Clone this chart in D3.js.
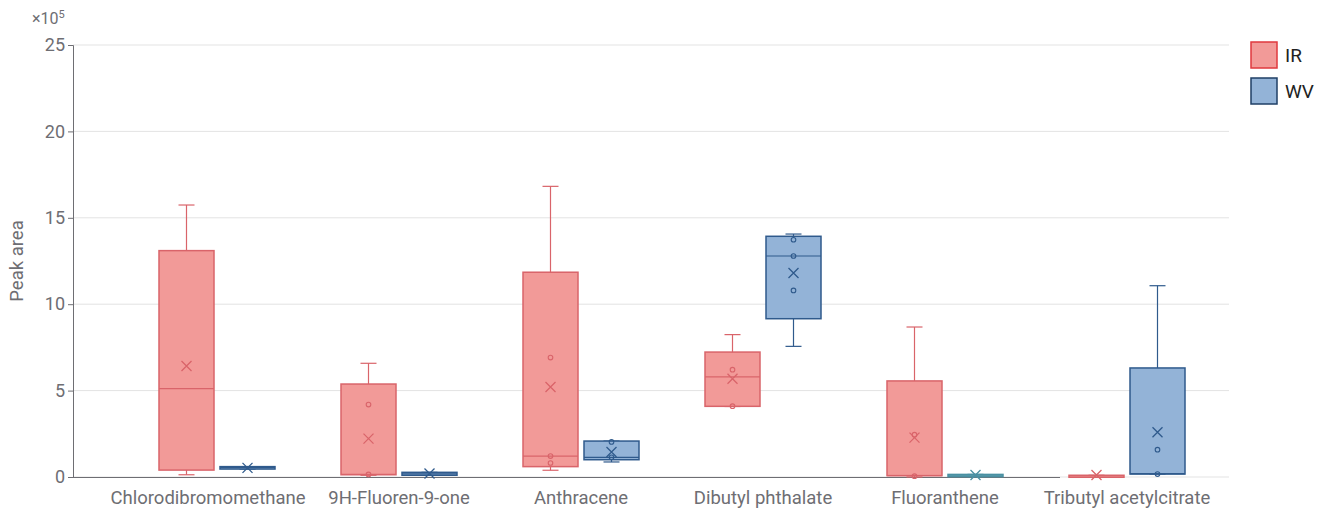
<!doctype html>
<html>
  <head>
    <meta charset="utf-8">
    <title>Peak area box plot</title>
    <script src="https://cdnjs.cloudflare.com/ajax/libs/d3/7.8.5/d3.min.js"></script>
    <style>
      body { margin: 0; background: #fff; font-family: Roboto, "Noto Sans", sans-serif; }
      .tick text { fill: #6e6e73; }
    </style>
  </head>
  <body>
    <div id="chart"></div>
    <script>
      // categories on the x axis
      const categories = ['Chlorodibromomethane', '9H-Fluoren-9-one', 'Anthracene',
                          'Dibutyl phthalate', 'Fluoranthene', 'Tributyl acetylcitrate'];
      const seriesNames = ['IR', 'WV'];
      const yTicks = [0, 5, 10, 15, 20, 25];

      // IR stats (x10^5)
      const irMin  = [0.13, 0.10, 0.39, 4.08, 0.00, 0.05];
      const irQ1   = [0.40, 0.13, 0.60, 4.09, 0.08, 0.05];
      const irMed  = [5.11, 0.15, 1.21, 5.79, 0.08, 0.08];
      const irQ3   = [13.10, 5.38, 11.85, 7.23, 5.56, 0.10];
      const irMax  = [15.74, 6.58, 16.82, 8.24, 8.68, 0.10];
      const irMean = [6.42, 2.22, 5.21, 5.69, 2.28, 0.12];
      const irPts  = [[], [4.19, 0.15], [6.91, 1.21, 0.81], [6.21, 4.10], [2.45, 0.05], []];

      // WV stats (x10^5)
      const wvMin  = [0.46, 0.10, 0.87, 7.56, 0.02, 0.17];
      const wvQ1   = [0.46, 0.10, 1.00, 9.16, 0.02, 0.17];
      const wvMed  = [0.54, 0.18, 1.14, 12.79, 0.10, 0.20];
      const wvQ3   = [0.60, 0.27, 2.08, 13.93, 0.15, 6.31];
      const wvMax  = [0.60, 0.27, 2.08, 14.06, 0.15, 11.07];
      const wvMean = [0.53, 0.20, 1.45, 11.81, 0.12, 2.59];
      const wvPts  = [[], [], [2.03, 1.14], [13.73, 12.79, 10.80], [], [1.58, 0.17]];

      const W = 1321, H = 512;
      const plotL = 73, plotR = 1229, plotT = 45, plotB = 477;

      const svg = d3.select('#chart').append('svg')
        .attr('width', W).attr('height', H);

      const y = d3.scaleLinear().domain([0, 25]).range([plotB, plotT]);
      const x = d3.scaleBand().domain(categories).range([126, 1218]);
      // two boxes of ~55px with a 6px gap, centred in each band
      const xs = d3.scaleBand().domain(seriesNames).range([33, x.bandwidth() - 33])
        .paddingInner(6 / 61).paddingOuter(0);

      const styles = {
        IR: { fill: '#f29a98', stroke: '#d9646a' },
        WV: { fill: '#93b3d7', stroke: '#2f5a8c' }
      };
      const tealStyle = { fill: '#7fb0bd', stroke: '#4a90a2' };

      // gridlines
      svg.append('g')
        .selectAll('line')
        .data(yTicks)
        .join('line')
        .attr('x1', plotL).attr('x2', plotR)
        .attr('y1', d => y(d)).attr('y2', d => y(d))
        .attr('stroke', '#e3e3e3').attr('stroke-width', 1);

      // y axis
      const yAxis = svg.append('g')
        .attr('transform', `translate(${plotL},0)`)
        .call(d3.axisLeft(y).tickValues(yTicks).tickSize(5).tickPadding(3));
      yAxis.select('.domain').attr('stroke', '#6e6e73');
      yAxis.selectAll('.tick line').attr('stroke', '#6e6e73');
      yAxis.selectAll('.tick text').style('font-size', '18px').style('font-family', 'Roboto');

      // x axis baseline
      svg.append('line')
        .attr('x1', plotL).attr('x2', 1060)
        .attr('y1', plotB + 0.5).attr('y2', plotB + 0.5)
        .attr('stroke', '#6e6e73').attr('stroke-width', 1.2);

      const xAxis = svg.append('g')
        .attr('transform', `translate(0,${plotB})`)
        .call(d3.axisBottom(x).tickSize(0).tickPadding(14));
      xAxis.select('.domain').remove();
      xAxis.selectAll('.tick text')
        .style('font-size', '18.5px').style('font-family', 'Roboto')
        .attr('dx', (d, i) => i === 0 ? -9 : 0);

      // exponent and y title
      svg.append('text')
        .attr('x', 32).attr('y', 24)
        .attr('fill', '#6e6e73').style('font-size', '16px')
        .html('×10<tspan dy="-6" font-size="11">5</tspan>');
      svg.append('text')
        .attr('transform', 'translate(23,261) rotate(-90)')
        .attr('text-anchor', 'middle')
        .attr('fill', '#6e6e73').style('font-size', '18.5px')
        .text('Peak area');

      // build box rows
      const boxes = [];
      categories.forEach((c, i) => {
        boxes.push({ cat: c, s: 'IR', min: irMin[i], q1: irQ1[i], med: irMed[i], q3: irQ3[i], max: irMax[i], mean: irMean[i], pts: irPts[i] });
        boxes.push({ cat: c, s: 'WV', min: wvMin[i], q1: wvQ1[i], med: wvMed[i], q3: wvQ3[i], max: wvMax[i], mean: wvMean[i], pts: wvPts[i] });
      });

      const bw = xs.bandwidth();
      const cap = 8;
      const styleOf = d => (d.cat === 'Fluoranthene' && d.s === 'WV') ? tealStyle : styles[d.s];

      const g = svg.append('g').selectAll('g')
        .data(boxes)
        .join('g')
        .attr('transform', d => `translate(${x(d.cat) + xs(d.s)},0)`);

      // whiskers
      g.append('line')
        .attr('x1', bw / 2).attr('x2', bw / 2)
        .attr('y1', d => y(d.max)).attr('y2', d => y(d.min))
        .attr('stroke', d => styleOf(d).stroke).attr('stroke-width', 1.2);
      g.append('line')
        .attr('x1', bw / 2 - cap).attr('x2', bw / 2 + cap)
        .attr('y1', d => y(d.max)).attr('y2', d => y(d.max))
        .attr('stroke', d => styleOf(d).stroke).attr('stroke-width', 1.2);
      g.append('line')
        .attr('x1', bw / 2 - cap).attr('x2', bw / 2 + cap)
        .attr('y1', d => y(d.min)).attr('y2', d => y(d.min))
        .attr('stroke', d => styleOf(d).stroke).attr('stroke-width', 1.2);

      // box
      g.append('rect')
        .attr('x', 0).attr('width', bw)
        .attr('y', d => y(d.q3))
        .attr('height', d => Math.max(2, y(d.q1) - y(d.q3)))
        .attr('fill', d => styleOf(d).fill)
        .attr('stroke', d => styleOf(d).stroke).attr('stroke-width', 1.5);

      // median
      g.append('line')
        .attr('x1', 0).attr('x2', bw)
        .attr('y1', d => y(d.med)).attr('y2', d => y(d.med))
        .attr('stroke', d => styleOf(d).stroke).attr('stroke-width', 1.2);

      // inner points
      g.selectAll('circle')
        .data(d => d.pts.map(v => ({ v, d })))
        .join('circle')
        .attr('cx', bw / 2).attr('cy', p => y(p.v))
        .attr('r', 2.3)
        .attr('fill', 'none')
        .attr('stroke', p => styleOf(p.d).stroke).attr('stroke-width', 1.1);

      // mean marker (x)
      const m = 5;
      g.append('path')
        .attr('d', d => {
          const cy = y(d.mean), cx = bw / 2;
          return `M${cx - m},${cy - m}L${cx + m},${cy + m}M${cx - m},${cy + m}L${cx + m},${cy - m}`;
        })
        .attr('stroke', d => styleOf(d).stroke).attr('stroke-width', 1.3).attr('fill', 'none');

      // legend
      const legendStroke = { IR: '#e0393e', WV: '#1f3f66' };
      const lg = svg.append('g').selectAll('g')
        .data(seriesNames)
        .join('g')
        .attr('transform', (d, i) => `translate(1251,${42 + i * 36})`);
      lg.append('rect')
        .attr('width', 26).attr('height', 26)
        .attr('fill', d => styles[d].fill)
        .attr('stroke', d => legendStroke[d]).attr('stroke-width', 1.5);
      lg.append('text')
        .attr('x', 34).attr('y', 20)
        .attr('fill', '#222').style('font-size', '19px')
        .text(d => d);
    </script>
  </body>
</html>
